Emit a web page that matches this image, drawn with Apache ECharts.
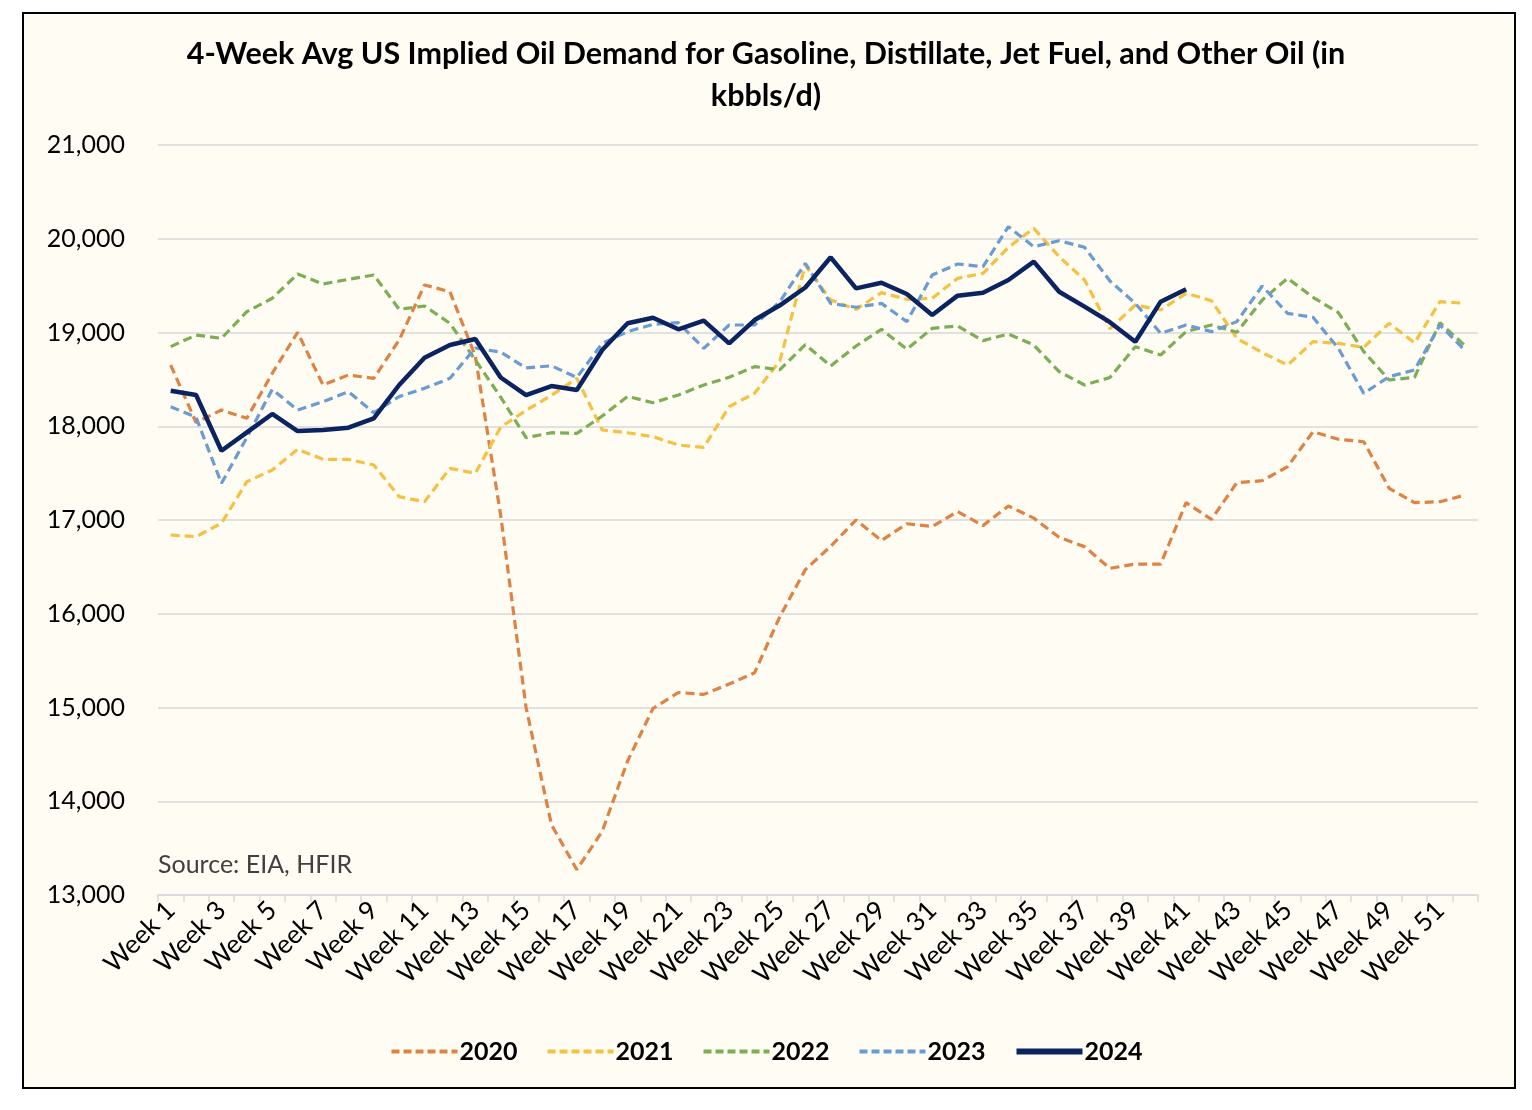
<!DOCTYPE html>
<html>
<head>
<meta charset="utf-8">
<script src="https://cdn.jsdelivr.net/npm/echarts@6/dist/echarts.min.js"></script>
<style>
  html, body { margin: 0; padding: 0; background: #ffffff; }
  #frame { position: absolute; left: 22px; top: 12px; width: 1490px; height: 1073px; border: 2px solid #000; background: #FEFCF3; }
  #chart { position: absolute; left: 0; top: 0; width: 1532px; height: 1110px; }
</style>
</head>
<body>
<div id="frame"></div>
<div id="chart"></div>
<script>
const weeks = [];
for (let i = 1; i <= 52; i++) weeks.push('Week ' + i);

const yTicks = { min: 13000, max: 21000, interval: 1000 };

const y2020 = [18653, 18040, 18173, 18085, 18564, 19002, 18440, 18547, 18511, 18920, 19507, 19435, 18750,
  17050, 15000, 13750, 13270, 13680, 14430, 14990, 15160, 15140, 15250, 15370, 15970, 16470, 16720,
  17000, 16780, 16960, 16930, 17090, 16940, 17150, 17020, 16815, 16716, 16484, 16530, 16530, 17185,
  17007, 17398, 17419, 17569, 17942, 17861, 17835, 17338, 17185, 17195, 17267];

const y2021 = [16840, 16822, 16965, 17409, 17533, 17754, 17647, 17647, 17587, 17249, 17195, 17551, 17498,
  17990, 18170, 18330, 18511, 17960, 17931, 17889, 17800, 17775, 18209, 18351, 18700, 19720, 19347,
  19247, 19425, 19354, 19365, 19578, 19631, 19909, 20111, 19809, 19560, 19040, 19293, 19240, 19418,
  19339, 18938, 18785, 18653, 18902, 18884, 18842, 19098, 18891, 19329, 19311];

const y2022 = [18849, 18973, 18938, 19222, 19365, 19624, 19517, 19567, 19613, 19247, 19283, 19098, 18707,
  18310, 17878, 17931, 17924, 18109, 18318, 18251, 18333, 18440, 18522, 18636, 18603, 18870, 18643,
  18856, 19034, 18821, 19045, 19069, 18913, 18984, 18867, 18582, 18440, 18520, 18849, 18760, 19009,
  19080, 19002, 19347, 19578, 19375, 19211, 18796, 18493, 18522, 19105, 18856];

const y2023 = [18209, 18095, 17391, 17880, 18394, 18173, 18262, 18368, 18145, 18316, 18405, 18511, 18835,
  18790, 18622, 18645, 18520, 18884, 19009, 19087, 19105, 18831, 19080, 19080, 19330, 19738, 19311,
  19269, 19311, 19116, 19613, 19731, 19702, 20129, 19915, 19979, 19909, 19550, 19311, 18991, 19080,
  19009, 19116, 19496, 19204, 19162, 18831, 18351, 18529, 18600, 19080, 18806];

const y2024 = [18379, 18333, 17739, 17935, 18131, 17949, 17960, 17985, 18085, 18440, 18731, 18867, 18930,
  18520, 18331, 18429, 18387, 18813, 19098, 19158, 19034, 19126, 18884, 19133, 19290, 19480, 19802,
  19471, 19531, 19411, 19187, 19393, 19425, 19560, 19756, 19435, 19276, 19110, 18902, 19329, 19461];

const seriesNames = ['2020', '2021', '2022', '2023', '2024'];
const seriesColors = ['#DE8344', '#F4C142', '#7DAE55', '#6B9BD3', '#0B2461'];
const seriesData = [y2020, y2021, y2022, y2023, y2024];

const FONT = 'Lato, "Open Sans", sans-serif';

const chart = echarts.init(document.getElementById('chart'), null, { renderer: 'canvas' });

const series = seriesNames.map((name, i) => ({
  name: name,
  type: 'line',
  data: seriesData[i],
  symbol: 'none',
  showSymbol: false,
  smooth: false,
  z: i === 4 ? 5 : 2 + i * 0.1,
  lineStyle: {
    color: seriesColors[i],
    width: i === 4 ? 4.5 : 3.2,
    type: i === 4 ? 'solid' : [9, 5],
    cap: 'butt'
  },
  itemStyle: { color: seriesColors[i] },
  emphasis: { disabled: true }
}));

const legendData = seriesNames.map((name, i) => ({
  name: name,
  itemStyle: { opacity: 0 },
  lineStyle: { width: i === 4 ? 6 : 4, type: i === 4 ? 'solid' : [8, 4], color: seriesColors[i] }
}));

chart.setOption({
  backgroundColor: 'transparent',
  animation: false,
  title: {
    text: '4-Week Avg US Implied Oil Demand for Gasoline, Distillate, Jet Fuel, and Other Oil (in\nkbbls/d)',
    left: 'center',
    top: 28,
    textStyle: { fontFamily: FONT, fontSize: 30.5, fontWeight: 'bold', color: '#000', lineHeight: 42 }
  },
  grid: { left: 158, right: 54, top: 145, bottom: 215, containLabel: false },
  legend: {
    data: legendData,
    left: 'center',
    top: 1034,
    itemWidth: 66,
    itemHeight: 14,
    itemGap: 28,
    itemStyle: { opacity: 0 },
    textStyle: { fontFamily: FONT, fontSize: 25, fontWeight: 'bold', color: '#000', padding: [0, 0, 0, -3] }
  },
  xAxis: {
    type: 'category',
    data: weeks,
    boundaryGap: true,
    axisLine: { show: true, lineStyle: { color: '#D9D9D9', width: 1.5 } },
    axisTick: { show: true, interval: 0, length: 7, lineStyle: { color: '#D9D9D9', width: 1.5 } },
    axisLabel: { interval: 1, rotate: 45, margin: 11, fontFamily: FONT, fontSize: 26, color: '#000' },
    splitLine: { show: false }
  },
  yAxis: {
    type: 'value',
    min: yTicks.min,
    max: yTicks.max,
    interval: yTicks.interval,
    axisLine: { show: false },
    axisTick: { show: false },
    axisLabel: {
      margin: 33,
      fontFamily: FONT,
      fontSize: 25,
      color: '#000',
      formatter: v => v.toString().replace(/\B(?=(\d{3})+(?!\d))/g, ',')
    },
    splitLine: { show: true, lineStyle: { color: '#D9D9D9', width: 1.5 } }
  },
  graphic: [{
    type: 'text',
    left: 158,
    top: 852,
    style: { text: 'Source: EIA, HFIR', fontFamily: FONT, fontSize: 25, fill: '#404040' }
  }],
  series: series
});
</script>
</body>
</html>
